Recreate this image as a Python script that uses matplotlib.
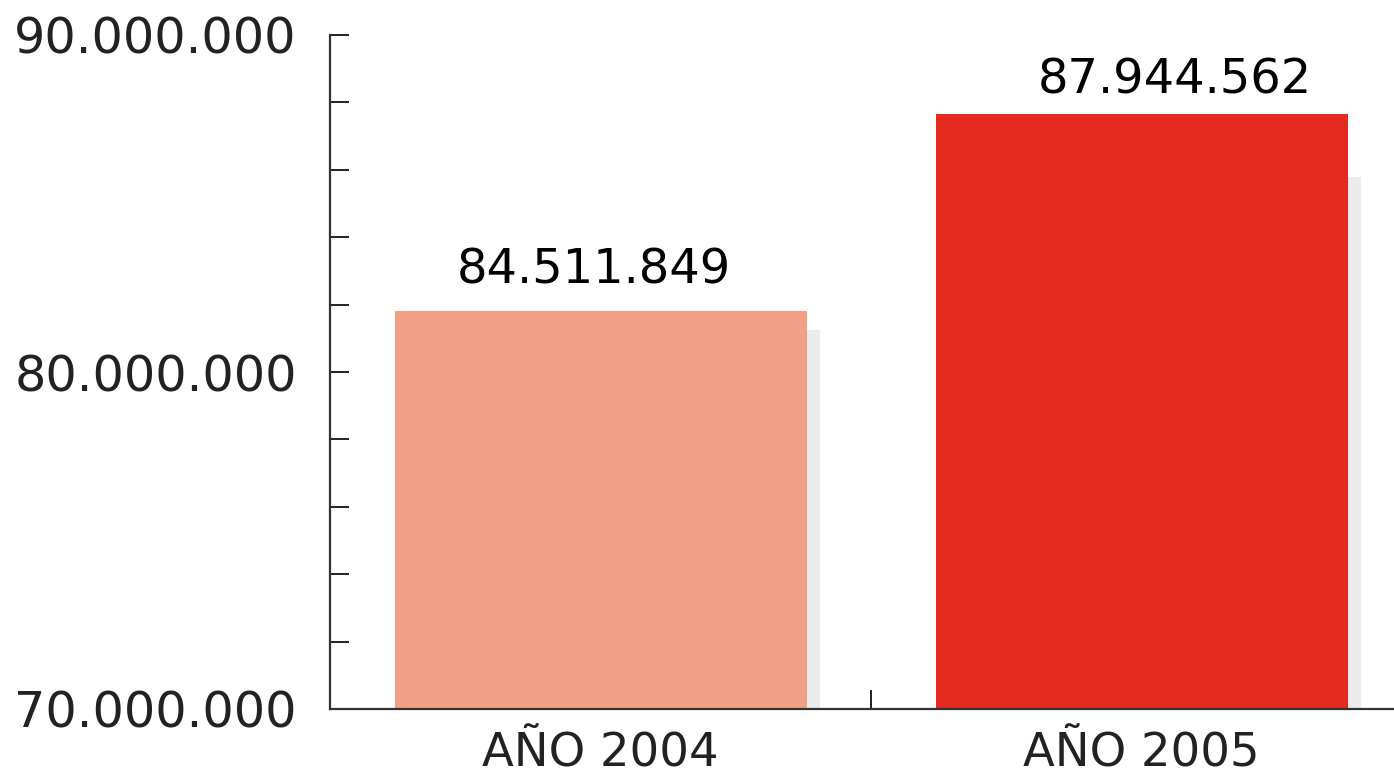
import matplotlib
matplotlib.use("Agg")
import matplotlib.pyplot as plt
from matplotlib.ticker import FixedLocator, FuncFormatter

# categories and values
categories = ['AÑO 2004', 'AÑO 2005']
bar_values = [81.81e6, 87.66e6]          # heights as drawn
shadow_values = [81.25e6, 85.79e6]       # grey drop shadow heights
value_labels = ['84.511.849', '87.944.562']
bar_colors = ['#f2a085', '#e52a1f']
label_offsets = [(-5, 20), (24, 15)]     # points, label placement

y_major = [70e6, 80e6, 90e6]
y_minor = [72e6, 74e6, 76e6, 78e6, 82e6, 84e6, 86e6, 88e6]


def fmt_millions(v, pos):
    return f"{int(round(v)):,}".replace(',', '.')


fig = plt.figure(figsize=(13.94, 7.74), dpi=100)
ax = fig.add_axes([330 / 1394, 65 / 774, 1064 / 1394, 674 / 774])

x = list(range(len(categories)))
width = 412 / 541
shift = 13 / 541

ax.bar([i + shift for i in x], shadow_values, width=width, color='#ebebeb', zorder=1)
ax.bar(x, bar_values, width=width, color=bar_colors, zorder=2)

for i, (v, lab) in enumerate(zip(bar_values, value_labels)):
    ax.annotate(lab, (x[i], v), xytext=label_offsets[i], textcoords='offset points',
                ha='center', va='baseline', fontsize=34.5, color='black', zorder=3)

ax.set_xlim(-0.5, -0.5 + 1064 / 541)
ax.set_ylim(70e6, 90e6)

ax.yaxis.set_major_locator(FixedLocator(y_major))
ax.yaxis.set_minor_locator(FixedLocator(y_minor))
ax.yaxis.set_major_formatter(FuncFormatter(fmt_millions))
ax.tick_params(axis='y', which='both', direction='in', length=14, width=1.4,
               color='#222222', pad=24, labelsize=35.5, labelcolor='#222222')

ax.set_xticks(x)
ax.set_xticklabels(categories)
ax.xaxis.set_minor_locator(FixedLocator([0.5]))
ax.tick_params(axis='x', which='major', length=0, pad=16, labelsize=33.5, labelcolor='#222222')
ax.tick_params(axis='x', which='minor', direction='in', length=14, width=1.4, color='#222222')

for side in ['top', 'right']:
    ax.spines[side].set_visible(False)
for side in ['left', 'bottom']:
    ax.spines[side].set_linewidth(1.6)
    ax.spines[side].set_color('#333333')

fig.savefig('out.png', dpi=100)
